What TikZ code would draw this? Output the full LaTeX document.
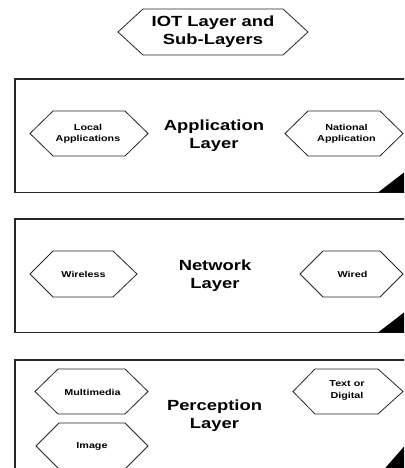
\documentclass[tikz,border=0pt]{standalone}
\usepackage{fontspec}
\newfontfamily\widesans{Liberation Sans}[FakeStretch=1.25]
\tikzset{
  hexline/.style={draw=black!85, line width=0.8pt, line join=miter},
  layerbox/.style={draw=black!85, line width=1.3pt},
  corner/.style={fill=black, draw=none},
  bigtxt/.style={font=\widesans\bfseries\fontsize{14.7}{18}\selectfont, align=center, inner sep=0pt},
  smalltxt/.style={font=\widesans\bfseries\fontsize{8.6}{11.5}\selectfont, align=center, inner sep=0pt}
}
\begin{document}
\begin{tikzpicture}[x=1pt,y=-1pt]
\useasboundingbox (0,0) rectangle (404,468);
\clip (0,0) rectangle (404,468);
% layer boxes
\draw[layerbox] (15,79) rectangle (425,192.5);
\draw[layerbox] (15,219) rectangle (425,332.5);
\draw[layerbox] (15,360) rectangle (425,485);
% corner triangles
\fill[corner] (378,192.5) -- (404,172.5) -- (404,192.5) -- cycle;
\fill[corner] (378,332.5) -- (404,312.5) -- (404,332.5) -- cycle;
\fill[corner] (380,474) -- (408,442) -- (408,474) -- cycle;
% title hexagon
\draw[hexline] (118,32) -- (143,9) -- (283,9) -- (308,32) -- (283,55) -- (143,55) -- cycle;
\node[bigtxt] (title) at (213,32) {IOT Layer and\\Sub-Layers};
% application layer
\draw[hexline] (30,133.5) -- (53,111) -- (125,111) -- (148,133.5) -- (125,156) -- (53,156) -- cycle;
\draw[hexline] (285,133.5) -- (308,111) -- (380,111) -- (403,133.5) -- (380,156) -- (308,156) -- cycle;
\node[bigtxt] (app) at (214,136) {Application\\Layer};
\node[smalltxt] (local) at (88,134) {Local\\Applications};
\node[smalltxt] (national) at (346.5,134) {National\\Application};
% network layer
\draw[hexline] (30,274) -- (53,251) -- (113,251) -- (137,274) -- (113,297) -- (53,297) -- cycle;
\draw[hexline] (300,274) -- (323,251) -- (380,251) -- (403,274) -- (380,297) -- (323,297) -- cycle;
\node[bigtxt] (net) at (215,276) {Network\\Layer};
\node[smalltxt] (wireless) at (83.5,274) {Wireless};
\node[smalltxt] (wired) at (352.5,274) {Wired};
% perception layer
\draw[hexline] (35,391.5) -- (58,369) -- (125,369) -- (148,391.5) -- (125,414) -- (58,414) -- cycle;
\draw[hexline] (36,446) -- (59,423) -- (125,423) -- (148,446) -- (125,469) -- (59,469) -- cycle;
\draw[hexline] (293,391.5) -- (315,369) -- (378,369) -- (403,391.5) -- (378,414) -- (315,414) -- cycle;
\node[bigtxt] (perc) at (214.5,415.5) {Perception\\Layer};
\node[smalltxt] (multi) at (92.5,392) {Multimedia};
\node[smalltxt] (image) at (92,446.5) {Image};
\node[smalltxt] (textdig) at (347,390.5) {Text or\\Digital};
\end{tikzpicture}
\end{document}
